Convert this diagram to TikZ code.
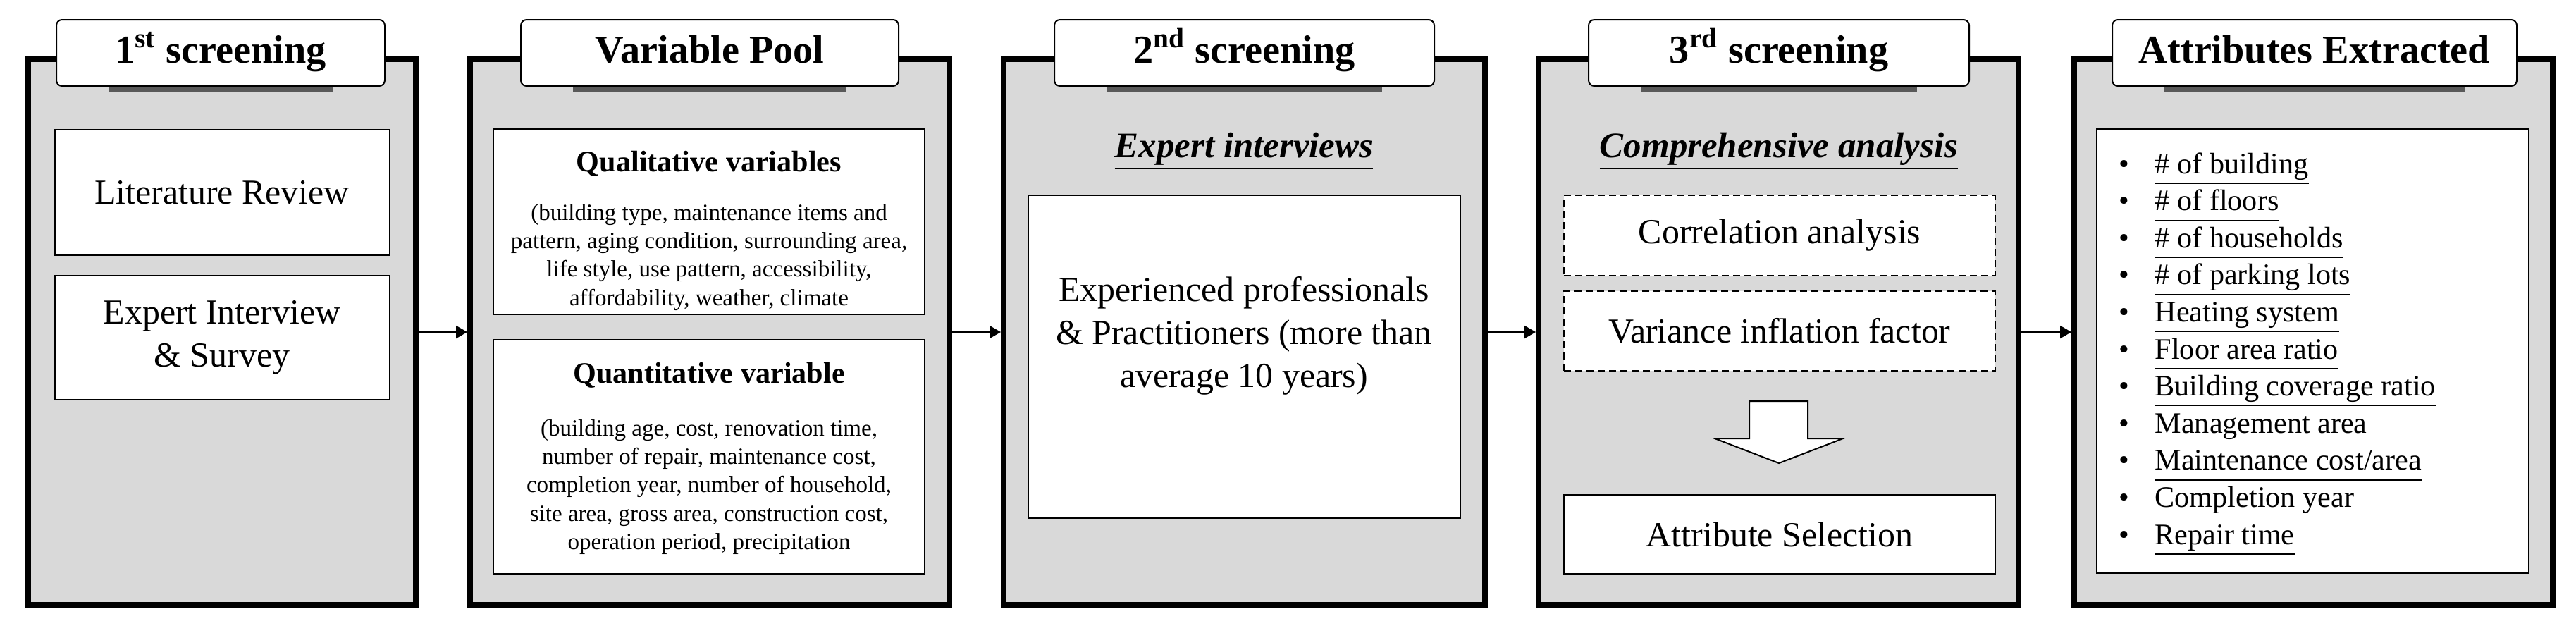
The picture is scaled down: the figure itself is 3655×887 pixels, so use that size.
\documentclass[tikz,border=0pt]{standalone}
\usepackage{fontspec}
\setmainfont{Liberation Serif}
\usetikzlibrary{positioning,arrows.meta}

\definecolor{panelgray}{RGB}{217,217,217}
\definecolor{shadowgray}{RGB}{89,89,89}

\newcommand{\ul}[1]{\underline{#1\vphantom{gy}}}
\newcommand{\tabshadow}[1]{\fill[shadowgray] ([xshift=7.5mm,yshift=-0.1mm]#1.south west) rectangle ([xshift=-7.5mm,yshift=-0.7mm]#1.south east);}

\tikzset{
  panel/.style={draw=black, line width=0.8mm, fill=panelgray},
  tab/.style={draw=black, line width=0.2mm, fill=white, rounded corners=0.8mm,
    minimum height=9.4mm, text height=11pt, text depth=2.5pt,
    font=\fontsize{16}{19}\selectfont\bfseries},
  box/.style={draw=black, line width=0.2mm, fill=white},
  dbox/.style={box, dash pattern=on 1mm off 0.6mm, line width=0.25mm},
  maintext/.style={font=\fontsize{14.2}{17.4}\selectfont, align=center},
  subhead/.style={font=\fontsize{12}{14}\selectfont\bfseries, inner sep=0pt},
  smalltext/.style={font=\fontsize{9.4}{11.4}\selectfont, align=center, inner sep=0pt},
  headit/.style={font=\fontsize{14.5}{17}\selectfont\bfseries\itshape, inner sep=0pt},
  listtext/.style={font=\fontsize{12}{15}\selectfont, inner sep=0pt},
  flow/.style={line width=0.2mm, -{Triangle[length=1.6mm, width=1.8mm]}},
  bigarrow/.style={draw=black, line width=0.2mm, fill=white}
}

\begin{document}
\begin{tikzpicture}[x=0.1mm, y=-0.1mm]
\useasboundingbox (0,0) rectangle (3655,887);

% panels
\node[panel, minimum width=55mm, minimum height=77.4mm] (scr1) at (315,471) {};
\node[panel, minimum width=68mm, minimum height=77.4mm] (pool) at (1007,471) {};
\node[panel, minimum width=68.3mm, minimum height=77.4mm] (scr2) at (1765.5,471) {};
\node[panel, minimum width=68.1mm, minimum height=77.4mm] (scr3) at (2523.5,471) {};
\node[panel, minimum width=67.9mm, minimum height=77.4mm] (attr) at (3282.5,471) {};

% title tabs
\node[tab, minimum width=46.6mm] (t1) at (313,75) {1\textsuperscript{st} screening};
\node[tab, minimum width=53.6mm] (t2) at (1007,75) {Variable Pool};
\node[tab, minimum width=53.9mm] (t3) at (1765.5,75) {2\textsuperscript{nd} screening};
\node[tab, minimum width=54mm] (t4) at (2524,75) {3\textsuperscript{rd} screening};
\node[tab, minimum width=57.4mm] (t5) at (3284,75) {Attributes Extracted};
\tabshadow{t1} \tabshadow{t2} \tabshadow{t3} \tabshadow{t4} \tabshadow{t5}

% 1st screening
\node[box, maintext, minimum width=47.5mm, minimum height=17.8mm] (litrev) at (315,273) {Literature Review};
\node[box, maintext, minimum width=47.5mm, minimum height=17.6mm] (expint) at (315,479) {Expert Interview\\\& Survey};

% variable pool
\node[box, minimum width=61.2mm, minimum height=26.3mm] (qual) at (1006,314.5) {};
\node[subhead] (qualhd) at (1006,232) {Qualitative variables};
\node[smalltext] (qualtx) at (1006,365) {(building type, maintenance items and\\pattern, aging condition, surrounding area,\\life style, use pattern, accessibility,\\affordability, weather, climate};
\node[box, minimum width=61.2mm, minimum height=33.2mm] (quant) at (1006,648) {};
\node[subhead] (quanthd) at (1006,532) {Quantitative variable};
\node[smalltext] (quanttx) at (1006,691) {(building age, cost, renovation time,\\number of repair, maintenance cost,\\completion year, number of household,\\site area, gross area, construction cost,\\operation period, precipitation};

% 2nd screening
\node[headit] (explbl) at (1765,215) {\underline{Expert interviews}};
\node[box, minimum width=61.3mm, minimum height=45.8mm] (expbox) at (1765,506) {};
\node[maintext] (exptx) at (1765,476) {Experienced professionals\\\& Practitioners (more than\\average 10 years)};

% 3rd screening
\node[headit] (complbl) at (2524,215) {\underline{Comprehensive analysis}};
\node[dbox, maintext, minimum width=61.2mm, minimum height=11.4mm] (corr) at (2525,334) {Correlation analysis};
\node[dbox, maintext, minimum width=61.2mm, minimum height=11.3mm] (vif) at (2525,469.5) {Variance inflation factor};

\coordinate (a1) at (2482,569); %stem left top
\coordinate (a2) at (2565,569); %stem right top
\coordinate (a3) at (2565,622); %shoulder right
\coordinate (a4) at (2615,622); %head right
\coordinate (a5) at (2524,657); %tip
\coordinate (a6) at (2433,622); %head left
\coordinate (a7) at (2482,622); %shoulder left
\draw[bigarrow] (a1) -- (a2) -- (a3) -- (a4) -- (a5) -- (a6) -- (a7) -- cycle;

\node[box, maintext, minimum width=61.2mm, minimum height=11.2mm] (attrsel) at (2525,758) {Attribute Selection};

% attributes extracted
\node[box, minimum width=61.3mm, minimum height=63mm] (attrlist) at (3281.5,498) {};
\foreach \txt [count=\i] in {\# of building, \# of floors, \# of households, \# of parking lots,
  Heating system, Floor area ratio, Building coverage ratio, Management area,
  Maintenance cost/area, Completion year, Repair time}
{
  \node[listtext, anchor=base] (b\i) at (3014,{246+52.6*(\i-1)}) {\textbullet};
  \node[listtext, anchor=base west] (it\i) at (3057,{246+52.6*(\i-1)}) {\ul{\txt}};
}

% connectors
\draw[flow] (scr1.east) -- (pool.west);
\draw[flow] (pool.east) -- (scr2.west);
\draw[flow] (scr2.east) -- (scr3.west);
\draw[flow] (scr3.east) -- (attr.west);
\end{tikzpicture}
\end{document}
